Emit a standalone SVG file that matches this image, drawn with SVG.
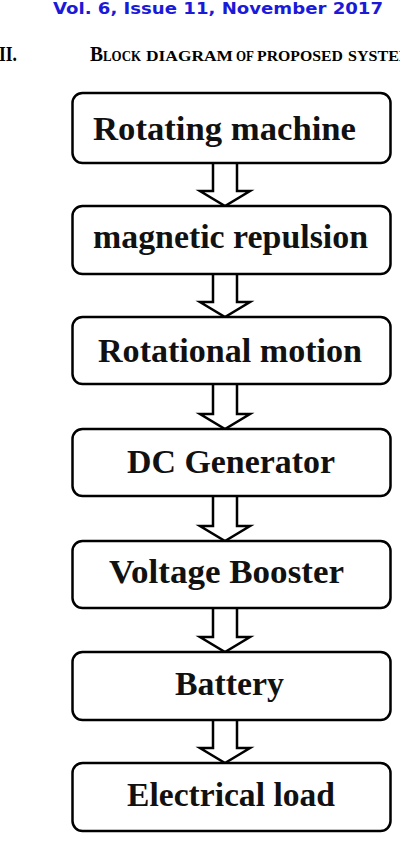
<svg xmlns="http://www.w3.org/2000/svg" width="400" height="866" viewBox="0 0 400 866">
<style>
.box{fill:#fff;stroke:#000;stroke-width:2.5}
.lbl{font-family:"Liberation Serif","Times New Roman",serif;font-weight:bold;font-size:33px;fill:#111}
.arr{fill:#fff;stroke:#000;stroke-width:2.5;stroke-linejoin:miter}
.hdr{font-family:"DejaVu Sans",Verdana,sans-serif;font-weight:bold;font-size:15.5px;fill:#1a1ad8}
.sec{font-family:"Liberation Serif","Times New Roman",serif;font-weight:bold;fill:#000}
.sc{font-family:"Liberation Serif","Times New Roman",serif;font-weight:bold;font-size:15px;fill:#000}
</style>
<rect width="400" height="866" fill="#fff"/>
<text class="hdr" x="53" y="14" textLength="330" lengthAdjust="spacingAndGlyphs">Vol. 6, Issue 11, November 2017</text>
<text class="sec" x="-1" y="61" font-size="21" textLength="18" lengthAdjust="spacingAndGlyphs">II.</text>
<text class="sec" x="90" y="61" font-size="20" textLength="13" lengthAdjust="spacingAndGlyphs">B</text>
<text class="sc" x="103" y="61" textLength="38" lengthAdjust="spacingAndGlyphs">LOCK</text>
<text class="sc" x="146" y="61" textLength="87" lengthAdjust="spacingAndGlyphs">DIAGRAM</text>
<text class="sc" x="236" y="61" textLength="18" lengthAdjust="spacingAndGlyphs">OF</text>
<text class="sc" x="257" y="61" textLength="86" lengthAdjust="spacingAndGlyphs">PROPOSED</text>
<text class="sc" x="348" y="61" textLength="66" lengthAdjust="spacingAndGlyphs">SYSTEM</text>
<g id="connectors">
<path class="arr" d="M213,163 V191 H200 L225,206 L250,191 H237 V163"/>
<path class="arr" d="M213,274 V302 H200 L225,317 L250,302 H237 V274"/>
<path class="arr" d="M213,384 V414 H200 L225,429 L250,414 H237 V384"/>
<path class="arr" d="M213,496 V526 H200 L225,541 L250,526 H237 V496"/>
<path class="arr" d="M213,608 V637 H200 L225,652 L250,637 H237 V608"/>
<path class="arr" d="M213,720 V748 H200 L225,763 L250,748 H237 V720"/>
</g>
<g id="n1"><rect class="box" x="72.5" y="93" width="318" height="70" rx="10"/><text class="lbl" x="93" y="140" textLength="263" lengthAdjust="spacingAndGlyphs">Rotating machine</text></g>
<g id="n2"><rect class="box" x="72.5" y="206" width="318" height="68" rx="10"/><text class="lbl" x="93" y="248" textLength="275" lengthAdjust="spacingAndGlyphs">magnetic repulsion</text></g>
<g id="n3"><rect class="box" x="72.5" y="317" width="318" height="67" rx="10"/><text class="lbl" x="98" y="362" textLength="264" lengthAdjust="spacingAndGlyphs">Rotational motion</text></g>
<g id="n4"><rect class="box" x="72.5" y="429" width="318" height="67" rx="10"/><text class="lbl" x="127" y="473" textLength="208" lengthAdjust="spacingAndGlyphs">DC Generator</text></g>
<g id="n5"><rect class="box" x="72.5" y="541" width="318" height="67" rx="10"/><text class="lbl" x="109" y="583" textLength="235" lengthAdjust="spacingAndGlyphs">Voltage Booster</text></g>
<g id="n6"><rect class="box" x="72.5" y="652" width="318" height="68" rx="10"/><text class="lbl" x="175" y="695" textLength="109" lengthAdjust="spacingAndGlyphs">Battery</text></g>
<g id="n7"><rect class="box" x="72.5" y="763" width="318" height="68" rx="10"/><text class="lbl" x="127" y="806" textLength="208" lengthAdjust="spacingAndGlyphs">Electrical load</text></g>
</svg>
